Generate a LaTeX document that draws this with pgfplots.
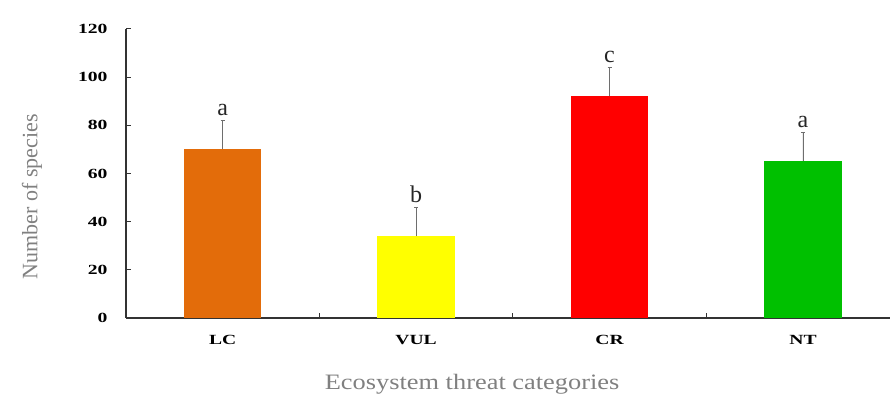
\documentclass[border=0pt]{standalone}
\usepackage{fontspec}
\setmainfont{Liberation Serif}
\newfontfamily\widefont[FakeStretch=1.4]{Liberation Serif}
\newfontfamily\xlabfont[FakeStretch=1.2]{Liberation Serif}
\usepackage{pgfplots}
\pgfplotsset{compat=1.18}
\definecolor{lcorange}{RGB}{227,108,10}
\definecolor{vulyellow}{RGB}{255,255,0}
\definecolor{crred}{RGB}{255,0,0}
\definecolor{ntgreen}{RGB}{0,192,0}
\definecolor{errgray}{RGB}{110,110,110}
\begin{document}
\begin{tikzpicture}
\begin{axis}[
  at={(126pt,75pt)}, anchor=south west,
  scale only axis, width=764pt, height=289pt,
  xmin=-0.5, xmax=3.45, ymin=0, ymax=120,
  axis x line=bottom, axis y line=left,
  axis line style={-, black!80, line width=1.2pt},
  xtick={0,1,2,3}, xticklabels={LC,VUL,CR,NT},
  minor xtick={0.5,1.5,2.5},
  major x tick style={draw=none},
  ytick={0,20,...,120},
  tick align=inside,
  major tick length=5pt, minor tick length=5pt,
  tick style={black!80, line width=1pt},
  /pgf/number format/assume math mode=true,
  ticklabel style={font=\widefont\fontsize{14}{14}\selectfont\bfseries},
  yticklabel style={xshift=-15pt},
  xticklabel style={yshift=-14pt},
  xlabel={Ecosystem threat categories},
  ylabel={Number of species},
  xlabel style={at={(axis description cs:0.453,-0.228)}, anchor=center,
    font=\xlabfont\fontsize{22}{22}\selectfont, text=black!50},
  ylabel style={at={(axis description cs:-0.123,0.42)}, anchor=center,
    font=\fontsize{22}{22}\selectfont, text=black!50},
  error bars/y dir=plus, error bars/y explicit,
  error bars/error bar style={errgray, line width=0.9pt},
  error bars/error mark options={errgray, rotate=90, mark size=2pt, line width=0.9pt},
]
\addplot[ybar, bar width=0.4, fill=lcorange, draw=none] coordinates {(0,70) +- (0,12)};
\addplot[ybar, bar width=0.4, fill=vulyellow, draw=none] coordinates {(1,34) +- (0,12)};
\addplot[ybar, bar width=0.4, fill=crred, draw=none] coordinates {(2,92) +- (0,12)};
\addplot[ybar, bar width=0.4, fill=ntgreen, draw=none] coordinates {(3,65) +- (0,12)};
\addplot[draw=none, mark=none, nodes near coords, point meta=explicit symbolic,
  nodes near coords style={anchor=south, font=\fontsize{24}{24}\selectfont, text=black!85, yshift=1pt}]
  table[meta=lab, row sep=\\] {x y lab\\ 0 82 a\\ 1 46 b\\ 2 104 c\\ 3 77 a\\};
\end{axis}
\pgfresetboundingbox
\useasboundingbox (0,0) rectangle (890pt,393pt);
\end{tikzpicture}
\end{document}
